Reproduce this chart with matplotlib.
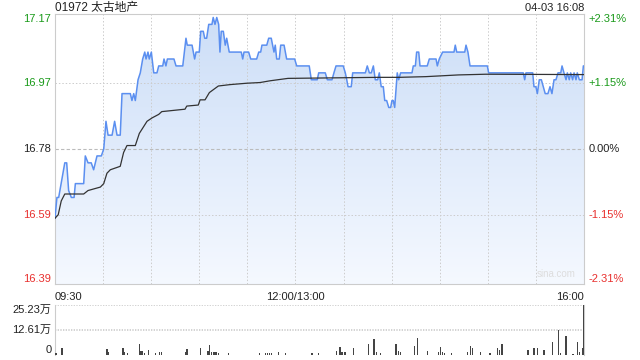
import numpy as np
import matplotlib
matplotlib.use('Agg')
import matplotlib.pyplot as plt
from matplotlib import transforms

plt.rcParams['font.family'] = ['Liberation Sans', 'Noto Sans CJK SC', 'DejaVu Sans']

# price line, minutes after 09:30 (lunch removed, 330 = 16:00)
price_t = [0, 1.2, 2.3, 6.1, 7.3, 8.5, 10.2, 11.9, 12.7, 17.9, 18.9, 20.6, 22.6, 24.1, 26.2,
           28.9, 30.4, 31.8, 33.1, 35.6, 37.2, 38.7, 40.7, 41.8, 47.0, 48.0, 49.1, 50.1, 51.8,
           53.2, 54.7, 56.0, 56.8, 58.0, 58.8, 60.1, 61.6, 63.6, 64.7, 67.2, 68.0, 69.2, 70.1,
           74.2, 75.5, 79.7, 81.7, 82.5, 85.5, 87.1, 88.0, 90.0, 90.9, 92.5, 93.4, 94.6, 95.9,
           97.9, 98.7, 99.8, 100.9, 102.1, 102.9, 103.7, 105.0, 106.2, 107.1, 108.7, 116.2,
           117.1, 117.9, 120.8, 122.1, 125.8, 127.1, 128.3, 129.1, 132.1, 133.3, 134.9, 136.6,
           137.4, 138.3, 139.9, 140.8, 142.9, 144.5, 149.5, 150.8, 158.6, 159.9, 163.6, 164.5,
           168.6, 169.9, 172.8, 174.0, 175.3, 179.8, 181.1, 182.0, 182.8, 184.8, 185.7, 193.6,
           194.8, 196.1, 197.3, 198.6, 199.8, 201.3, 202.3, 203.5, 204.8, 205.7, 206.9, 208.2,
           209.4, 210.2, 211.0, 211.9, 213.2, 213.5, 214.4, 215.6, 222.7, 223.5, 224.8, 225.6,
           226.9, 227.7, 232.2, 233.5, 237.7, 238.5, 239.7, 241.8, 248.9, 249.7, 250.6, 255.6,
           256.4, 257.6, 258.9, 269.7, 270.5, 292.1, 293.0, 293.8, 298.0, 298.8, 300.0, 300.9,
           302.1, 303.4, 304.6, 305.8, 307.5, 308.8, 310.0, 311.3, 312.5, 313.8, 315.5, 316.3,
           317.5, 318.8, 319.6, 320.8, 321.7, 322.9, 323.8, 325.0, 325.8, 327.1, 328.8, 329.6, 330]
price = [16.58, 16.64, 16.64, 16.74, 16.74, 16.66, 16.64, 16.64, 16.68, 16.68, 16.76, 16.74, 16.74,
         16.72, 16.76, 16.76, 16.78, 16.86, 16.82, 16.82, 16.86, 16.82, 16.82, 16.94, 16.94, 16.92,
         16.94, 16.92, 16.98, 17.00, 17.04, 17.06, 17.04, 17.06, 17.04, 17.06, 17.00, 17.00, 17.02,
         17.02, 17.04, 17.02, 17.04, 17.04, 17.02, 17.02, 17.10, 17.08, 17.08, 17.04, 17.06, 17.06,
         17.12, 17.12, 17.10, 17.10, 17.14, 17.14, 17.16, 17.14, 17.16, 17.14, 17.06, 17.12, 17.12,
         17.08, 17.10, 17.06, 17.06, 17.04, 17.06, 17.06, 17.04, 17.04, 17.06, 17.06, 17.08, 17.08,
         17.10, 17.10, 17.06, 17.08, 17.04, 17.04, 17.08, 17.08, 17.04, 17.04, 17.02, 17.02, 16.98,
         16.98, 17.00, 17.00, 16.98, 16.98, 17.00, 17.02, 17.02, 17.00, 16.98, 16.96, 16.96, 17.00,
         17.00, 17.02, 17.00, 17.00, 17.02, 16.98, 16.98, 17.00, 16.96, 16.96, 16.92, 16.92, 16.90,
         16.90, 16.92, 16.92, 16.90, 16.98, 17.00, 16.98, 17.00, 17.00, 17.02, 17.02, 17.06, 17.06,
         17.02, 17.02, 17.04, 17.04, 17.02, 17.04, 17.06, 17.06, 17.08, 17.06, 17.06, 17.08, 17.06,
         17.02, 17.02, 17.00, 17.00, 16.98, 17.00, 17.00, 16.96, 16.96, 16.94, 16.98, 16.98, 16.96,
         16.94, 16.94, 16.96, 16.94, 16.98, 16.98, 17.00, 17.00, 17.02, 17.00, 16.98, 17.00, 16.98,
         17.00, 16.98, 17.00, 16.98, 17.00, 16.98, 16.98, 17.02, 17.02]

# average price line
avg_t = [0, 2.0, 3.9, 6.1, 17.9, 20.6, 28.3, 30.4, 32.4, 34.5, 40.7, 42.8, 44.9, 50.1, 52.6, 57.4,
         60.6, 64.7, 66.6, 81.1, 82.2, 89.4, 90.5, 93.6, 96.3, 101.9, 109.2, 119.6, 127.9, 134.1,
         145.3, 201.5, 214.4, 231.2, 251.7, 268.6, 330]
avg = [16.58, 16.59, 16.63, 16.65, 16.65, 16.66, 16.67, 16.68, 16.71, 16.72, 16.73, 16.77, 16.79,
       16.79, 16.825, 16.86, 16.87, 16.88, 16.888, 16.895, 16.904, 16.907, 16.922, 16.922, 16.943,
       16.962, 16.966, 16.97, 16.972, 16.977, 16.984, 16.987, 16.987, 16.989, 16.994, 16.996, 16.995]

# volume bars (万)
vol_t = [0, 1, 4.4, 32.4, 33.5, 42.4, 43.5, 45.1, 52.6, 53.6, 54.7, 56, 58.4, 62.6, 65.1, 66.3,
         81.3, 82.3, 90.9, 95.4, 96.3, 97.5, 99.2, 100.4, 102.1, 108.3, 127.5, 131.2, 132.4, 133.7,
         134.9, 139.5, 143.7, 160.3, 164.5, 175.7, 177.8, 179, 180.9, 186.1, 195.4, 199, 200.7,
         203.2, 212.7, 214.2, 215.6, 224.4, 226, 232.2, 239.1, 240.6, 241.8, 243.1, 247.5, 257.2,
         259.3, 260.6, 265.6, 271.4, 275.9, 277.2, 278.4, 279.3, 295.2, 298.8, 300.9, 305, 310.2,
         314, 315.5, 318.8, 323, 325.8, 327.1, 329.2, 330]
vol = [0.84, 0.84, 3.4, 3.0, 1.3, 3.7, 1.3, 0.84, 5.4, 2.0, 2.0, 1.0, 2.4, 1.0, 1.7, 1.7,
       1.7, 3.0, 3.4, 2.0, 5.0, 1.3, 1.3, 1.3, 1.0, 1.0, 1.0, 1.0, 1.0, 1.0,
       1.0, 1.3, 0.84, 1.0, 1.0, 2.0, 4.0, 1.3, 1.3, 3.7, 5.7, 8.1, 1.3,
       1.0, 5.7, 2.0, 1.3, 4.4, 8.7, 2.0, 1.7, 4.0, 1.7, 1.0, 1.0, 1.3,
       4.4, 3.4, 1.7, 1.0, 3.7, 2.7, 5.4, 5.4, 2.7, 3.7, 3.4, 2.4, 6.4,
       12.4, 1.0, 9.4, 0.7, 6.7, 1.3, 3.4, 25.23]

prev_close = 16.78
price_ticks = [17.17, 16.97, 16.78, 16.59, 16.39]
pct_labels = ['+2.31%', '+1.15%', '0.00%', '-1.15%', '-2.31%']
vol_ticks = [25.23, 12.61, 0]
vol_labels = ['25.23万', '12.61万', '0']

green = '#1a9a1a'
red = '#e8302e'
dark = '#222222'
tick_colors = [green, green, dark, red, red]

fig = plt.figure(figsize=(6.4, 3.6), dpi=100)
ax = fig.add_axes([55 / 640, 1 - 284 / 360, 529 / 640, 270 / 360])
axv = fig.add_axes([55 / 640, 1 - 355 / 360, 529 / 640, 50 / 360])

ymin, ymax = 16.39, 17.17
ax.set_xlim(0, 330)
ax.set_ylim(ymin, ymax)

# gradient fill under the price line
poly = ax.fill_between(price_t, price, ymin, color='none', lw=0)
grad = np.linspace(0, 1, 256).reshape(-1, 1)
c_top = np.array([0.80, 0.87, 0.97])
c_bot = np.array([0.96, 0.975, 1.0])
img = c_bot + grad[..., None] * (c_top - c_bot)
im = ax.imshow(img, extent=[0, 330, ymin, ymax], aspect='auto', origin='lower', zorder=1)
im.set_clip_path(poly.get_paths()[0], transform=ax.transData)

ax.plot(price_t, price, color='#5b8ff0', lw=1.1, zorder=3)
ax.plot(avg_t, avg, color='#333333', lw=0.9, zorder=4)

# grid
for i in range(1, 11):
    ax.axvline(i * 30, color='#cccccc', lw=0.7, ls=(0, (1.5, 2)), zorder=2)
for y in [16.97, 16.59]:
    ax.axhline(y, color='#cccccc', lw=0.7, ls=(0, (1.5, 2)), zorder=2)
ax.axhline(prev_close, color='#bbbbbb', lw=0.8, ls=(0, (3, 2)), zorder=2)

for a in (ax, axv):
    a.set_xticks([])
    a.set_yticks([])
    for s in a.spines.values():
        s.set_color('#cccccc')
        s.set_linewidth(0.8)
axv.spines['bottom'].set_visible(False)
axv.spines['top'].set_visible(False)

# price labels
tr_l = transforms.blended_transform_factory(ax.transAxes, ax.transData)
vas = ['top', 'center', 'center', 'center', 'bottom']
for y, lab, col, va in zip(price_ticks, pct_labels, tick_colors, vas):
    ax.text(-0.007, y, f'{y:.2f}', transform=tr_l, ha='right', va=va, color=col, fontsize=8)
    ax.text(1.008, y, lab, transform=tr_l, ha='left', va=va, color=col, fontsize=8)

# time labels
ax.text(0, -0.03, '09:30', transform=ax.transAxes, ha='left', va='top', fontsize=8, color=dark)
ax.text(150 / 330, -0.03, '12:00/13:00', transform=ax.transAxes, ha='center', va='top', fontsize=8, color=dark)
ax.text(1, -0.03, '16:00', transform=ax.transAxes, ha='right', va='top', fontsize=8, color=dark)

fig.text(55 / 640, 1 - 8 / 360, '01972 太古地产', ha='left', va='center', fontsize=8.5, color=dark)
fig.text(584 / 640, 1 - 8 / 360, '04-03 16:08', ha='right', va='center', fontsize=8, color=dark)
ax.text(0.985, 0.02, 'sina.com', transform=ax.transAxes, ha='right', va='bottom', fontsize=7, color='#dddddd')

# volume
axv.set_xlim(0, 330)
axv.set_ylim(0, 25.23)
axv.bar(vol_t, vol, width=0.9, color='#444444', zorder=3)
axv.axhline(25.23, color='#cccccc', lw=1.2, ls=(0, (0.8, 0.8)), zorder=1)
axv.axhline(12.61, color='#cccccc', lw=1.2, ls=(0, (0.8, 0.8)), zorder=1)
tr_v = transforms.blended_transform_factory(axv.transAxes, axv.transData)
for y, lab, va in zip(vol_ticks, vol_labels, ['top', 'center', 'bottom']):
    axv.text(-0.007, y, lab, transform=tr_v, ha='right', va=va, fontsize=8, color=dark)

fig.savefig('out.png', dpi=100)
